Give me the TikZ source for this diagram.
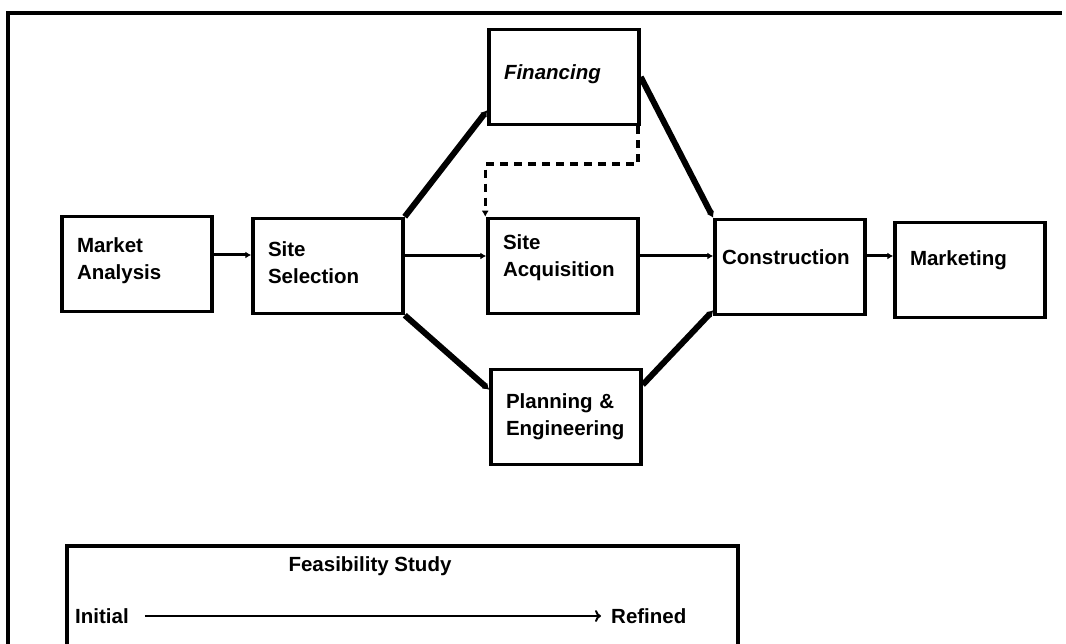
\documentclass[tikz,border=0pt]{standalone}
\usepackage{fontspec}
\setmainfont{Liberation Sans}
\usetikzlibrary{arrows.meta}

\begin{document}
\begin{tikzpicture}[x=1pt,y=-1pt,
	every node/.style={font=\bfseries\fontsize{20.5}{27}\selectfont},
	box/.style={draw,line width=3.5pt,minimum width=150pt,minimum height=95pt,text width=120pt,align=left},
	flow/.style={line width=3pt,-{Latex[length=6pt,width=7pt]}},
	thick flow/.style={line width=6pt,-{Latex[length=6pt,width=8pt]}}]
	\useasboundingbox (0,0) rectangle (1066,644);
	\draw[line width=3.5pt] (8,660) |- (1062,13);
	% process boxes (trailing empty line lifts the text)
	\node[box] (ma) at (137,264) {Market\\Analysis\\[-17pt]\mbox{}};
	\node[box] (ss) at (328,266) {Site\\Selection\\[-21pt]\mbox{}};
	\node[box] (fin) at (564,77) {\textit{Financing}\\[-17pt]\mbox{}};
	\node[box] (sa) at (563,266) {Site\\Acquisition\\[-7pt]\mbox{}};
	\node[box] (pe) at (566,417) {Planning \&\\Engineering};
	\node[box,text width=136pt] (con) at (790,267) {Construction\\[-7pt]\mbox{}};
	\node[box] (mkt) at (970,270) {Marketing\\[-3pt]\mbox{}};
	% connectors
	\draw[flow] ([yshift=9pt]ma.east) -- ([yshift=9pt]ma.east -| ss.west);
	\draw[flow] ([yshift=10pt]ss.east) -- ([yshift=10pt]ss.east -| sa.west);
	\draw[thick flow] (ss.north east) -- ([yshift=16pt]fin.south west);
	\draw[thick flow] (ss.south east) -- ([yshift=-22pt]pe.north west);
	\draw[thick flow] (fin.east) -- (con.north west);
	\draw[flow] ([yshift=10pt]sa.east) -- ([yshift=10pt]sa.east -| con.west);
	\draw[thick flow] ([yshift=-17pt]pe.north east) -- ([yshift=6pt]con.south west);
	\draw[flow] ([yshift=11pt]con.east) -- ([yshift=11pt]con.east -| mkt.west);
	\draw[flow,line width=3.5pt,dash pattern=on 8pt off 6pt] ([xshift=-3pt]fin.south east) -- ++(0,38) -| ([xshift=-1pt]sa.north west);
	% feasibility legend
	\node[draw,line width=3.5pt,minimum width=671pt,minimum height=120pt,anchor=north west] (fs) at (65,544) {};
	\node (title) at (370,566) {Feasibility Study};
	\node[anchor=west,inner sep=0pt] (init) at (75,616) {Initial};
	\node[anchor=west,inner sep=0pt] (refd) at (611,616) {Refined};
	\draw[line width=2pt,-{To[length=6pt,width=12pt]}] ([xshift=16pt]init.east) -- ([xshift=-10pt]refd.west);
\end{tikzpicture}
\end{document}
